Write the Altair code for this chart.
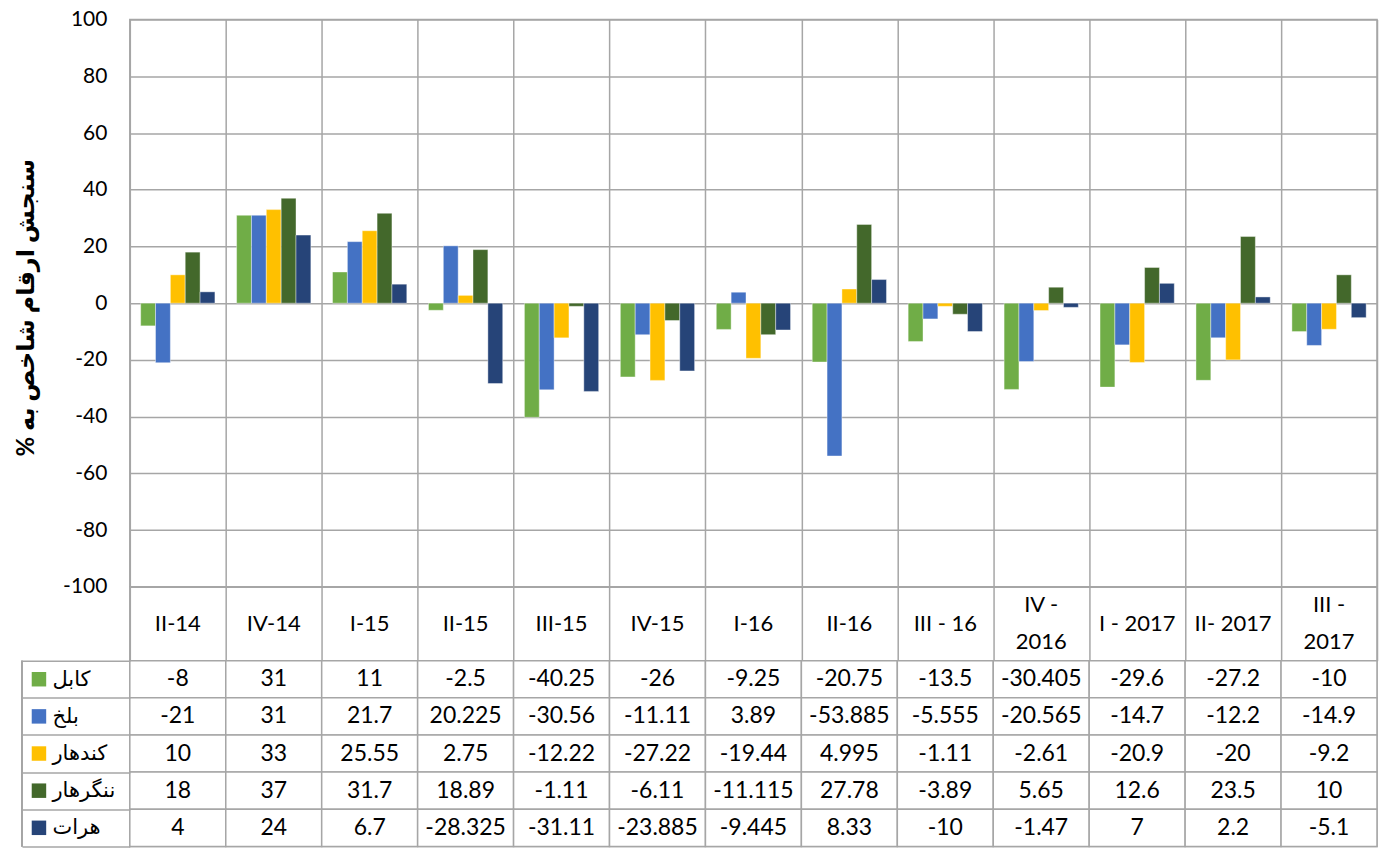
import altair as alt
import pandas as pd

categories = ["II-14", "IV-14", "I-15", "II-15", "III-15", "IV-15", "I-16", "II-16",
              "III - 16", "IV -\n2016", "I - 2017", "II- 2017", "III -\n2017"]
regions = ["کابل", "بلخ", "کندهار", "ننگرهار", "هرات"]
colors = ["#70ad47", "#4472c4", "#ffc000", "#43682b", "#264478"]

kabul = [-8, 31, 11, -2.5, -40.25, -26, -9.25, -20.75, -13.5, -30.405, -29.6, -27.2, -10]
balkh = [-21, 31, 21.7, 20.225, -30.56, -11.11, 3.89, -53.885, -5.555, -20.565, -14.7, -12.2, -14.9]
kandahar = [10, 33, 25.55, 2.75, -12.22, -27.22, -19.44, 4.995, -1.11, -2.61, -20.9, -20, -9.2]
nangarhar = [18, 37, 31.7, 18.89, -1.11, -6.11, -11.115, 27.78, -3.89, 5.65, 12.6, 23.5, 10]
herat = [4, 24, 6.7, -28.325, -31.11, -23.885, -9.445, 8.33, -10, -1.47, 7, 2.2, -5.1]

y_title = "سنجش ارقام شاخص به %\u200f"

series = [kabul, balkh, kandahar, nangarhar, herat]
rows = []
for r, vals in zip(regions, series):
    for c, v in zip(categories, vals):
        rows.append({"category": c, "region": r, "value": v, "label": str(v)})
df = pd.DataFrame(rows)

# header label lines (category names, split where they wrap)
head_rows = []
for c in categories:
    parts = c.split("\n")
    if len(parts) == 1:
        head_rows.append({"category": c, "pos": "mid", "line": parts[0]})
    else:
        head_rows.append({"category": c, "pos": "top", "line": parts[0]})
        head_rows.append({"category": c, "pos": "bot", "line": parts[1]})
df_head = pd.DataFrame(head_rows)

FONT = "Lato, DejaVu Sans, sans-serif"
GRID = "#a6a6a6"
W = 1249
HEAD_H = 74
ROWS_H = 186

x_scale = alt.Scale(domain=categories, paddingInner=0, paddingOuter=0)
color_scale = alt.Scale(domain=regions, range=colors)

grid_axis = alt.Axis(title=None, grid=True, tickBand="extent", gridColor=GRID, gridWidth=1.5,
                     ticks=False, labels=False, domain=False)

top = alt.Chart(df).mark_bar(stroke="white", strokeWidth=0.8, strokeOpacity=0.5).encode(
    x=alt.X("category:N", sort=categories, scale=x_scale, axis=grid_axis),
    xOffset=alt.XOffset("region:N", sort=regions,
                        scale=alt.Scale(domain=regions, paddingOuter=0.73, paddingInner=0)),
    y=alt.Y("value:Q", scale=alt.Scale(domain=[-100, 100], nice=False),
            axis=alt.Axis(values=list(range(-100, 101, 20)), grid=True, gridColor=GRID, gridWidth=1.5,
                          ticks=False, domain=False, labelPadding=23, labelFontSize=21,
                          labelColor="black", labelFont=FONT, labelExpr="'' + datum.value",
                          title=y_title, titleX=-103, titleY=288, titleAngle=270,
                          titleBaseline="middle", titleAlign="center", titleFontSize=24,
                          titleFontWeight="bold", titleColor="black", titleFont=FONT)),
    color=alt.Color("region:N", scale=color_scale, legend=None),
).properties(width=W, height=568)

header = alt.Chart(df_head).mark_text(fontSize=22, color="black", font=FONT).encode(
    x=alt.X("category:N", sort=categories, scale=x_scale, axis=grid_axis),
    y=alt.Y("pos:N", scale=alt.Scale(type="point", domain=["top", "mid", "bot"], padding=1.6),
            axis=None),
    text="line:N",
).properties(width=W, height=HEAD_H)

table_base = alt.Chart(df).encode(
    x=alt.X("category:N", sort=categories, scale=x_scale, axis=None),
    y=alt.Y("region:N", sort=regions, scale=alt.Scale(domain=regions, paddingInner=0, paddingOuter=0),
            axis=alt.Axis(title=None, ticks=True, tickBand="extent", tickSize=108, tickColor=GRID,
                          tickWidth=1.5, domain=False, labelAlign="left", labelPadding=-30,
                          labelFontSize=21, labelColor="black", labelBaseline="middle",
                          labelFont=FONT)),
)

cells = table_base.mark_rect(fill="white", stroke=GRID, strokeWidth=1.5)
texts = table_base.mark_text(fontSize=23, color="black", font=FONT).encode(text="label:N")
swatches = table_base.mark_square(size=210, opacity=1).encode(
    x=alt.value(-91),
    color=alt.Color("region:N", scale=color_scale, legend=None),
).transform_filter(alt.datum.category == categories[0])
border = table_base.mark_rule(color=GRID, strokeWidth=1.5).encode(
    x=alt.value(-108), y=alt.value(0), y2=alt.value(ROWS_H)
).transform_filter(alt.datum.category == categories[0])

table = alt.layer(cells, texts, swatches, border).properties(width=W, height=ROWS_H)

chart = alt.vconcat(top, header, table, spacing=0, bounds="flush").properties(
    padding={"top": -1, "left": 6, "right": 0, "bottom": 0}
).configure_view(stroke=GRID, strokeWidth=1.5)

chart.save("out.html", embed_options={"renderer": "svg", "actions": False})
